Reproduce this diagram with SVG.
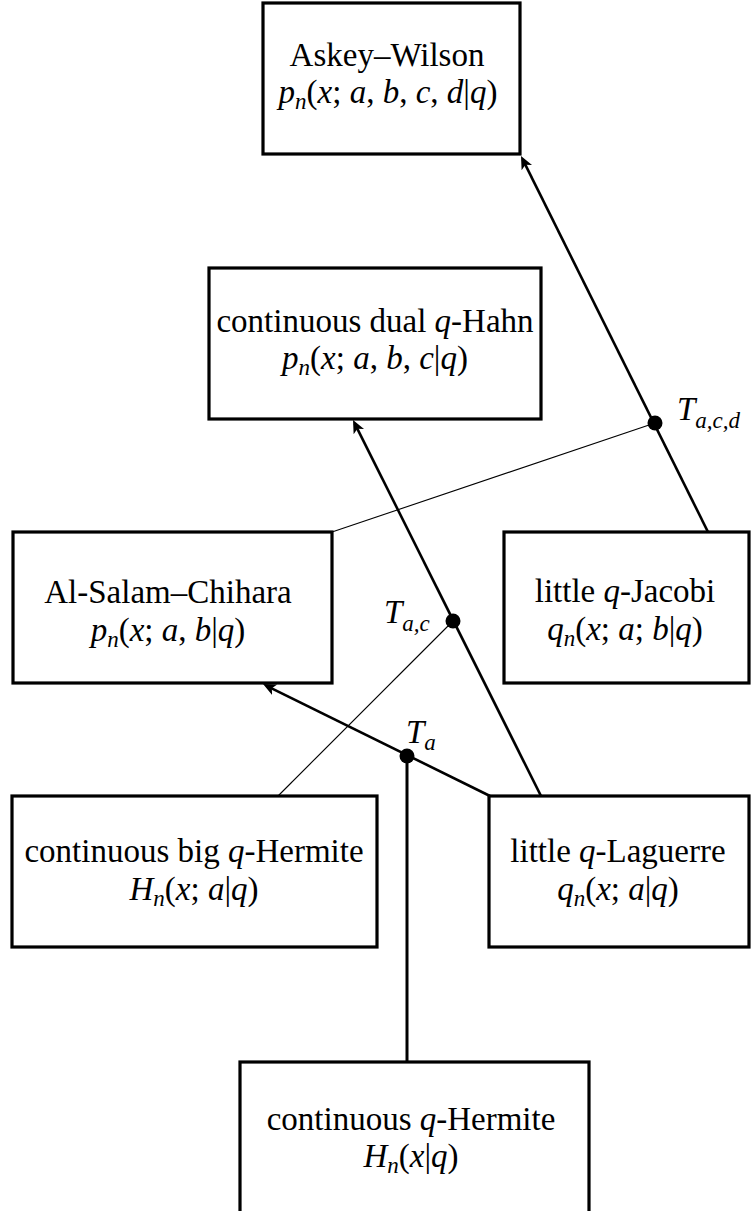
<svg xmlns="http://www.w3.org/2000/svg" width="751" height="1211" viewBox="0 0 751 1211">
<style>
.t{font-family:"Liberation Serif","Times New Roman",serif;font-size:33px;fill:#000;text-anchor:middle}
.l{font-family:"Liberation Serif","Times New Roman",serif;font-size:33px;fill:#000}
.i{font-style:italic}
.s{font-size:23px}
.box{fill:#fff;stroke:#000;stroke-width:3.2}
.thick{stroke:#000;stroke-width:2.6;fill:none}
.thin{stroke:#000;stroke-width:1.1;fill:none}
.dot{fill:#000}
</style>
<defs>
<marker id="arr" markerUnits="userSpaceOnUse" markerWidth="20" markerHeight="20" refX="9" refY="7" orient="auto">
<path d="M0,1.2 L13,7 L0,12.8 L3.2,7 Z" fill="#000"/>
</marker>
</defs>
<rect width="751" height="1211" fill="#fff"/>
<g id="askey-wilson">
<rect class="box" x="263" y="3" width="257" height="151"/>
<text class="t" x="387" y="66">Askey–Wilson</text>
<text class="t" x="388" y="103"><tspan class="i">p</tspan><tspan class="i s" dy="6">n</tspan><tspan dy="-6">(</tspan><tspan class="i">x</tspan>; <tspan class="i">a</tspan>, <tspan class="i">b</tspan>, <tspan class="i">c</tspan>, <tspan class="i">d</tspan>|<tspan class="i">q</tspan>)</text>
</g>
<g id="continuous-dual-q-hahn">
<rect class="box" x="209" y="268" width="332" height="151"/>
<text class="t" x="375" y="332">continuous dual <tspan class="i">q</tspan>-Hahn</text>
<text class="t" x="375" y="369"><tspan class="i">p</tspan><tspan class="i s" dy="6">n</tspan><tspan dy="-6">(</tspan><tspan class="i">x</tspan>; <tspan class="i">a</tspan>, <tspan class="i">b</tspan>, <tspan class="i">c</tspan>|<tspan class="i">q</tspan>)</text>
</g>
<g id="al-salam-chihara">
<rect class="box" x="13" y="532" width="319" height="151"/>
<text class="t" x="168" y="603">Al-Salam–Chihara</text>
<text class="t" x="168" y="641"><tspan class="i">p</tspan><tspan class="i s" dy="6">n</tspan><tspan dy="-6">(</tspan><tspan class="i">x</tspan>; <tspan class="i">a</tspan>, <tspan class="i">b</tspan>|<tspan class="i">q</tspan>)</text>
</g>
<g id="little-q-jacobi">
<rect class="box" x="504" y="532" width="245" height="151"/>
<text class="t" x="625" y="602">little <tspan class="i">q</tspan>-Jacobi</text>
<text class="t" x="625" y="640"><tspan class="i">q</tspan><tspan class="i s" dy="6">n</tspan><tspan dy="-6">(</tspan><tspan class="i">x</tspan>; <tspan class="i">a</tspan>; <tspan class="i">b</tspan>|<tspan class="i">q</tspan>)</text>
</g>
<g id="continuous-big-q-hermite">
<rect class="box" x="12" y="796" width="365" height="151"/>
<text class="t" x="194" y="862">continuous big <tspan class="i">q</tspan>-Hermite</text>
<text class="t" x="194" y="900"><tspan class="i">H</tspan><tspan class="i s" dy="6">n</tspan><tspan dy="-6">(</tspan><tspan class="i">x</tspan>; <tspan class="i">a</tspan>|<tspan class="i">q</tspan>)</text>
</g>
<g id="little-q-laguerre">
<rect class="box" x="489" y="796" width="260" height="151"/>
<text class="t" x="618" y="862">little <tspan class="i">q</tspan>-Laguerre</text>
<text class="t" x="618" y="900"><tspan class="i">q</tspan><tspan class="i s" dy="6">n</tspan><tspan dy="-6">(</tspan><tspan class="i">x</tspan>; <tspan class="i">a</tspan>|<tspan class="i">q</tspan>)</text>
</g>
<g id="continuous-q-hermite">
<rect class="box" x="240" y="1062" width="349" height="170"/>
<text class="t" x="411" y="1130">continuous <tspan class="i">q</tspan>-Hermite</text>
<text class="t" x="411" y="1167"><tspan class="i">H</tspan><tspan class="i s" dy="6">n</tspan><tspan dy="-6">(</tspan><tspan class="i">x</tspan>|<tspan class="i">q</tspan>)</text>
</g>
<g id="connectors">
<line class="thick" x1="708" y1="532" x2="522.8" y2="159.6" marker-end="url(#arr)"/>
<line class="thick" x1="541" y1="796" x2="354.8" y2="423.6" marker-end="url(#arr)"/>
<line class="thick" x1="490" y1="796" x2="266.6" y2="685.8" marker-end="url(#arr)"/>
<line class="thick" x1="407" y1="756" x2="407" y2="1062" style="stroke-width:3"/>
<line class="thin" x1="655" y1="423" x2="332" y2="532"/>
<line class="thin" x1="453" y1="621" x2="278" y2="796"/>
<circle class="dot" cx="655" cy="423" r="7.5"/>
<circle class="dot" cx="453" cy="621" r="7.5"/>
<circle class="dot" cx="407" cy="756" r="7.5"/>
<text class="l" x="677" y="420"><tspan class="i">T</tspan><tspan class="i s" dy="8">a,c,d</tspan></text>
<text class="l" x="384" y="623"><tspan class="i">T</tspan><tspan class="i s" dy="8">a,c</tspan></text>
<text class="l" x="406" y="743"><tspan class="i">T</tspan><tspan class="i s" dy="7">a</tspan></text>
</g>
</svg>
